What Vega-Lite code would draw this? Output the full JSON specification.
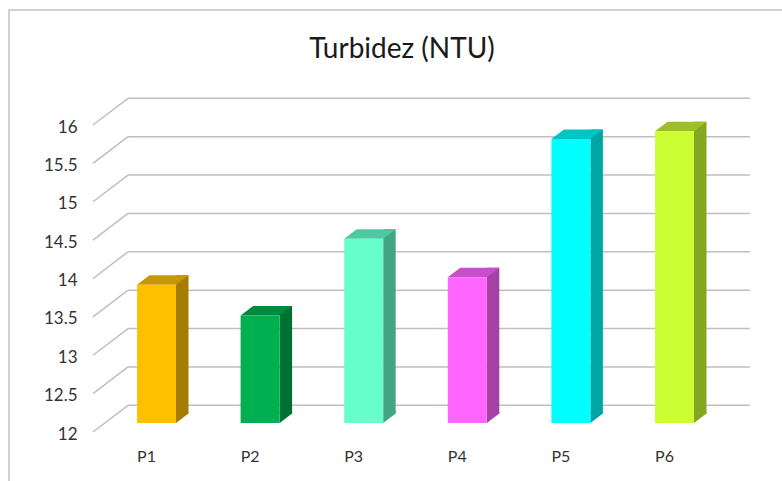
{"$schema":"https://vega.github.io/schema/vega-lite/v6.json","width":776,"height":474,"autosize":"none","padding":{"left":9,"top":10,"right":-3,"bottom":-3},"background":"white","config":{"view":{"stroke":"#c4c4c4","strokeWidth":1.5},"font":"Lato"},"title":{"text":"Turbidez (NTU)","font":"Lato","fontSize":28,"fontWeight":"normal","color":"#1a1a1a","anchor":"middle","dx":5,"dy":58},"datasets":{"bars":[{"punto":"P1","turbidez":13.8},{"punto":"P2","turbidez":13.4},{"punto":"P3","turbidez":14.4},{"punto":"P4","turbidez":13.9},{"punto":"P5","turbidez":15.7},{"punto":"P6","turbidez":15.8}],"ticks":[{"tick":12},{"tick":12.5},{"tick":13},{"tick":13.5},{"tick":14},{"tick":14.5},{"tick":15},{"tick":15.5},{"tick":16}]},"resolve":{"scale":{"color":"independent"}},"layer":[{"data":{"name":"ticks"},"mark":{"type":"rule","color":"#bfbfbf","strokeWidth":1.5,"xOffset":-28.5,"x2Offset":75.5,"yOffset":-17.7},"encoding":{"x":{"datum":"P1","type":"nominal","scale":{"domain":["P1","P2","P3","P4","P5","P6"],"range":[95.7,717.3],"paddingInner":0,"paddingOuter":0},"axis":{"title":null,"domain":false,"ticks":false,"grid":false,"labelAngle":0,"labelFont":"Lato","labelFontSize":16,"labelColor":"#333333","labelOffset":-10,"labelPadding":0,"offset":-36}},"x2":{"datum":"P6"},"y":{"field":"tick","type":"quantitative","scale":{"domain":[12,16],"range":[413,106],"nice":false,"zero":false},"axis":{"title":null,"values":[12,12.5,13,13.5,14,14.5,15,15.5,16],"format":"~r","domain":false,"ticks":false,"grid":false,"labelFont":"Lato","labelFontSize":17,"labelColor":"#333333","labelOffset":11,"labelPadding":0,"offset":-68}}}},{"data":{"name":"ticks"},"mark":{"type":"point","filled":false,"opacity":1,"size":4,"shape":"M-63.5,9L-28.5,-17.7","stroke":"#bfbfbf","strokeWidth":1.5},"encoding":{"x":{"datum":"P1","type":"nominal"},"y":{"field":"tick","type":"quantitative"}}},{"data":{"name":"bars"},"mark":{"type":"rule","strokeWidth":12.5,"xOffset":25.75,"yOffset":-9.5,"y2Offset":-9.5},"encoding":{"x":{"field":"punto","type":"nominal"},"y":{"field":"turbidez","type":"quantitative"},"y2":{"datum":12},"color":{"field":"punto","type":"nominal","legend":null,"scale":{"domain":["P1","P2","P3","P4","P5","P6"],"range":["#a67c00","#007033","#42a685","#a642a6","#00a6a6","#85a621"]}}}},{"data":{"name":"bars"},"mark":{"type":"point","filled":true,"opacity":1,"size":4,"strokeWidth":0,"shape":"M19.5,0L32,-9.5L32,-11L19.5,-11Z"},"encoding":{"x":{"field":"punto","type":"nominal"},"y":{"datum":12,"type":"quantitative"},"color":{"field":"punto","type":"nominal","legend":null,"scale":{"domain":["P1","P2","P3","P4","P5","P6"],"range":["#a67c00","#007033","#42a685","#a642a6","#00a6a6","#85a621"]}}}},{"data":{"name":"bars"},"mark":{"type":"point","filled":true,"opacity":1,"size":4,"strokeWidth":0,"shape":"M-19.5,0L19.5,0L32,-9.5L-7,-9.5Z"},"encoding":{"x":{"field":"punto","type":"nominal"},"y":{"field":"turbidez","type":"quantitative"},"color":{"field":"punto","type":"nominal","legend":null,"scale":{"domain":["P1","P2","P3","P4","P5","P6"],"range":["#c49a00","#008a3f","#4fc7a0","#c94fc9","#00c4c4","#9fbf28"]}}}},{"data":{"name":"bars"},"mark":{"type":"bar","width":39},"encoding":{"x":{"field":"punto","type":"nominal"},"y":{"field":"turbidez","type":"quantitative"},"y2":{"datum":12},"color":{"field":"punto","type":"nominal","legend":null,"scale":{"domain":["P1","P2","P3","P4","P5","P6"],"range":["#ffc000","#00b050","#66ffcc","#ff66ff","#00ffff","#ccff33"]}}}}]}
